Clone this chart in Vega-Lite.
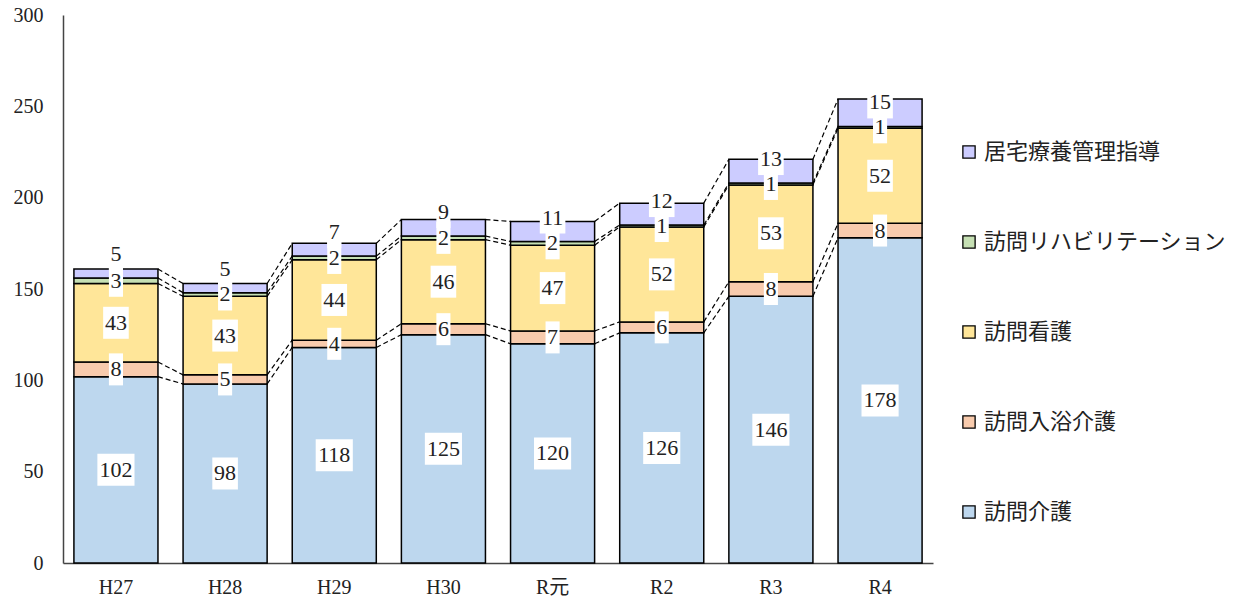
{
  "$schema": "https://vega.github.io/schema/vega-lite/v6.json",
  "width": 870,
  "height": 548,
  "autosize": {"type": "none"},
  "padding": {"left": 63, "top": 15, "right": 312, "bottom": 42},
  "background": "white",
  "config": {
    "view": {"stroke": null},
    "font": "'Liberation Serif', 'Noto Sans CJK JP', serif"
  },
  "data": {
    "values": [
      {"yi": 0, "year": "H27", "co": 1, "cat": "訪問介護", "value": 102},
      {"yi": 0, "year": "H27", "co": 2, "cat": "訪問入浴介護", "value": 8},
      {"yi": 0, "year": "H27", "co": 3, "cat": "訪問看護", "value": 43},
      {"yi": 0, "year": "H27", "co": 4, "cat": "訪問リハビリテーション", "value": 3},
      {"yi": 0, "year": "H27", "co": 5, "cat": "居宅療養管理指導", "value": 5},
      {"yi": 1, "year": "H28", "co": 1, "cat": "訪問介護", "value": 98},
      {"yi": 1, "year": "H28", "co": 2, "cat": "訪問入浴介護", "value": 5},
      {"yi": 1, "year": "H28", "co": 3, "cat": "訪問看護", "value": 43},
      {"yi": 1, "year": "H28", "co": 4, "cat": "訪問リハビリテーション", "value": 2},
      {"yi": 1, "year": "H28", "co": 5, "cat": "居宅療養管理指導", "value": 5},
      {"yi": 2, "year": "H29", "co": 1, "cat": "訪問介護", "value": 118},
      {"yi": 2, "year": "H29", "co": 2, "cat": "訪問入浴介護", "value": 4},
      {"yi": 2, "year": "H29", "co": 3, "cat": "訪問看護", "value": 44},
      {"yi": 2, "year": "H29", "co": 4, "cat": "訪問リハビリテーション", "value": 2},
      {"yi": 2, "year": "H29", "co": 5, "cat": "居宅療養管理指導", "value": 7},
      {"yi": 3, "year": "H30", "co": 1, "cat": "訪問介護", "value": 125},
      {"yi": 3, "year": "H30", "co": 2, "cat": "訪問入浴介護", "value": 6},
      {"yi": 3, "year": "H30", "co": 3, "cat": "訪問看護", "value": 46},
      {"yi": 3, "year": "H30", "co": 4, "cat": "訪問リハビリテーション", "value": 2},
      {"yi": 3, "year": "H30", "co": 5, "cat": "居宅療養管理指導", "value": 9},
      {"yi": 4, "year": "R元", "co": 1, "cat": "訪問介護", "value": 120},
      {"yi": 4, "year": "R元", "co": 2, "cat": "訪問入浴介護", "value": 7},
      {"yi": 4, "year": "R元", "co": 3, "cat": "訪問看護", "value": 47},
      {"yi": 4, "year": "R元", "co": 4, "cat": "訪問リハビリテーション", "value": 2},
      {"yi": 4, "year": "R元", "co": 5, "cat": "居宅療養管理指導", "value": 11},
      {"yi": 5, "year": "R2", "co": 1, "cat": "訪問介護", "value": 126},
      {"yi": 5, "year": "R2", "co": 2, "cat": "訪問入浴介護", "value": 6},
      {"yi": 5, "year": "R2", "co": 3, "cat": "訪問看護", "value": 52},
      {"yi": 5, "year": "R2", "co": 4, "cat": "訪問リハビリテーション", "value": 1},
      {"yi": 5, "year": "R2", "co": 5, "cat": "居宅療養管理指導", "value": 12},
      {"yi": 6, "year": "R3", "co": 1, "cat": "訪問介護", "value": 146},
      {"yi": 6, "year": "R3", "co": 2, "cat": "訪問入浴介護", "value": 8},
      {"yi": 6, "year": "R3", "co": 3, "cat": "訪問看護", "value": 53},
      {"yi": 6, "year": "R3", "co": 4, "cat": "訪問リハビリテーション", "value": 1},
      {"yi": 6, "year": "R3", "co": 5, "cat": "居宅療養管理指導", "value": 13},
      {"yi": 7, "year": "R4", "co": 1, "cat": "訪問介護", "value": 178},
      {"yi": 7, "year": "R4", "co": 2, "cat": "訪問入浴介護", "value": 8},
      {"yi": 7, "year": "R4", "co": 3, "cat": "訪問看護", "value": 52},
      {"yi": 7, "year": "R4", "co": 4, "cat": "訪問リハビリテーション", "value": 1},
      {"yi": 7, "year": "R4", "co": 5, "cat": "居宅療養管理指導", "value": 15}
    ]
  },
  "layer": [
    {
      "mark": {"type": "bar", "stroke": "#000", "strokeWidth": 1.5},
      "encoding": {
        "x": {
          "field": "year", "type": "nominal",
          "scale": {"domain": ["H27", "H28", "H29", "H30", "R元", "R2", "R3", "R4"], "paddingInner": 0.23, "paddingOuter": 0.1},
          "axis": {"title": null, "labelAngle": 0, "ticks": false, "labelFontSize": 20, "labelPadding": 14, "labelColor": "#222", "domainColor": "#444", "domainWidth": 1.5}
        },
        "y": {
          "field": "value", "type": "quantitative", "stack": "zero",
          "scale": {"domain": [0, 300]},
          "axis": {"title": null, "values": [0, 50, 100, 150, 200, 250, 300], "grid": false, "ticks": false, "labelFontSize": 20, "labelPadding": 20, "labelColor": "#222", "domainColor": "#444", "domainWidth": 1.5}
        },
        "color": {
          "field": "cat", "type": "nominal",
          "scale": {
            "domain": ["居宅療養管理指導", "訪問リハビリテーション", "訪問看護", "訪問入浴介護", "訪問介護"],
            "range": ["#CCCCFF", "#C6E0B4", "#FFE699", "#F8CBAD", "#BDD7EE"]
          },
          "legend": {"title": null, "orient": "none", "legendX": 895, "legendY": 126, "symbolType": "square", "symbolSize": 150, "symbolStrokeColor": "#000", "symbolStrokeWidth": 1.3, "labelFontSize": 22, "labelColor": "#222", "labelLimit": 0, "rowPadding": 68, "padding": 0, "labelOffset": 4}
        },
        "order": {"field": "co", "type": "quantitative"}
      }
    },
    {
      "transform": [
        {"window": [{"op": "sum", "field": "value", "as": "cum"}], "groupby": ["year"], "sort": [{"field": "co"}]},
        {"window": [{"op": "lead", "field": "cum", "as": "ncum"}, {"op": "lead", "field": "year", "as": "nyear"}], "groupby": ["cat"], "sort": [{"field": "yi"}]},
        {"filter": "datum.nyear != null"}
      ],
      "mark": {"type": "rule", "strokeDash": [5, 3], "strokeWidth": 1.2, "color": "#000"},
      "encoding": {
        "x": {"field": "year", "type": "nominal", "bandPosition": 1},
        "x2": {"field": "nyear", "bandPosition": 0},
        "y": {"field": "cum", "type": "quantitative"},
        "y2": {"field": "ncum"}
      }
    },
    {
      "mark": {"type": "point", "filled": true, "fill": "white", "size": 1024, "strokeWidth": 0},
      "encoding": {
        "x": {"field": "year", "type": "nominal"},
        "y": {"field": "value", "type": "quantitative", "stack": "zero", "bandPosition": 0.5},
        "detail": {"field": "cat"},
        "order": {"field": "co", "type": "quantitative"},
        "shape": {"condition": [{"test": "datum.value >= 100", "value": "M-1.16,-1H1.16V1H-1.16Z"}, {"test": "datum.value >= 10", "value": "M-0.8,-1H0.8V1H-0.8Z"}], "value": "M-0.44,-1H0.44V1H-0.44Z"},
        "opacity": {"condition": {"test": "datum.co == 5", "value": 0}, "value": 1}
      }
    },
    {
      "mark": {"type": "text", "fontSize": 22, "baseline": "middle", "color": "#222"},
      "encoding": {
        "x": {"field": "year", "type": "nominal"},
        "y": {"field": "value", "type": "quantitative", "stack": "zero", "bandPosition": 0.5},
        "detail": {"field": "cat"},
        "order": {"field": "co", "type": "quantitative"},
        "text": {"field": "value", "type": "quantitative"},
        "opacity": {"condition": {"test": "datum.co == 5", "value": 0}, "value": 1}
      }
    },
    {
      "mark": {"type": "point", "filled": true, "fill": "white", "size": 1024, "strokeWidth": 0, "yOffset": -24},
      "encoding": {
        "x": {"field": "year", "type": "nominal"},
        "y": {"field": "value", "type": "quantitative", "stack": "zero", "bandPosition": 0},
        "detail": {"field": "cat"},
        "order": {"field": "co", "type": "quantitative"},
        "shape": {"condition": [{"test": "datum.value >= 100", "value": "M-1.16,-1H1.16V1H-1.16Z"}, {"test": "datum.value >= 10", "value": "M-0.8,-1H0.8V1H-0.8Z"}], "value": "M-0.44,-1H0.44V1H-0.44Z"},
        "opacity": {"condition": {"test": "datum.co == 5", "value": 1}, "value": 0}
      }
    },
    {
      "mark": {"type": "text", "fontSize": 22, "baseline": "middle", "color": "#222", "yOffset": -24},
      "encoding": {
        "x": {"field": "year", "type": "nominal"},
        "y": {"field": "value", "type": "quantitative", "stack": "zero", "bandPosition": 0},
        "detail": {"field": "cat"},
        "order": {"field": "co", "type": "quantitative"},
        "text": {"field": "value", "type": "quantitative"},
        "opacity": {"condition": {"test": "datum.co == 5", "value": 1}, "value": 0}
      }
    }
  ]
}
